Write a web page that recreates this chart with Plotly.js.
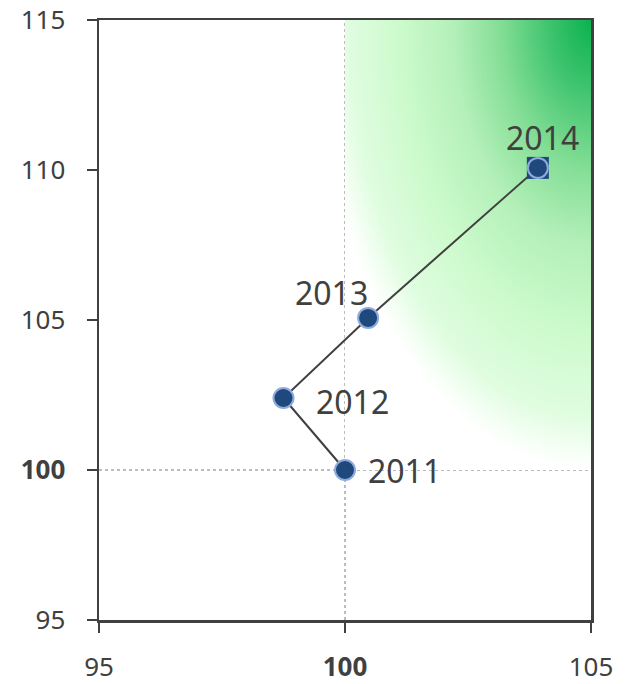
<!DOCTYPE html>
<html>
<head>
<meta charset="utf-8">
<script src="https://cdn.plot.ly/plotly-3.0.1.min.js"></script>
<style>
  html, body { margin: 0; padding: 0; background: #fff; }
  #chart { width: 633px; height: 684px; }
</style>
</head>
<body>
<div id="chart"></div>
<script>
// Index values by year (base year 2011 = 100)
const years = ['2011', '2012', '2013', '2014'];
const xValues = [100.0, 98.75, 100.47, 103.92];
const yValues = [100.0, 102.4, 105.07, 110.07];

// Axis ticks
const xTickVals = [95, 100, 105];
const xTickText = ['95', '<b>100</b>', '105'];
const yTickVals = [95, 100, 105, 110, 115];
const yTickText = ['95', '<b>100</b>', '105', '110', '115'];

// Reference level for the highlighted quadrant
const refX = 100;
const refY = 100;
const xRange = [95, 105];
const yRange = [95, 115];

// Label placement per year (pixel shifts from the point)
const labelShiftX = [59, 69, -37, 5];
const labelShiftY = [0, -3, 25, 30];

const ink = '#404040';
const fontFamily = '"Noto Sans", "Open Sans", sans-serif';

// Soft green glow radiating from the upper-right corner (elliptical falloff)
function glowImage() {
  const c = document.createElement('canvas');
  c.width = 300; c.height = 300;
  const ctx = c.getContext('2d');
  ctx.fillStyle = '#ffffff';
  ctx.fillRect(0, 0, 300, 300);
  ctx.setTransform(1.12, 0, 0, 1.0, 300, 0);
  const g = ctx.createRadialGradient(0, 0, 0, 0, 0, 300);
  g.addColorStop(0.00, 'rgb(12,178,80)');
  g.addColorStop(0.15, 'rgb(62,196,110)');
  g.addColorStop(0.33, 'rgb(132,222,150)');
  g.addColorStop(0.50, 'rgb(180,240,185)');
  g.addColorStop(0.70, 'rgb(205,251,205)');
  g.addColorStop(0.88, 'rgb(224,253,224)');
  g.addColorStop(0.96, 'rgb(246,255,246)');
  g.addColorStop(1.00, 'rgb(255,255,255)');
  ctx.fillStyle = g;
  ctx.fillRect(-300, 0, 300, 300);
  return c.toDataURL('image/png');
}

const last = years.length - 1;

const traces = [
  {
    x: xValues, y: yValues, type: 'scatter', mode: 'lines',
    line: { color: ink, width: 2 }, hoverinfo: 'skip', showlegend: false
  },
  {
    x: [xValues[last]], y: [yValues[last]], type: 'scatter', mode: 'markers',
    marker: { symbol: 'square', size: 22, color: '#1f497d', line: { width: 0 } },
    hoverinfo: 'skip', showlegend: false
  },
  {
    x: xValues, y: yValues, type: 'scatter', mode: 'markers', text: years,
    marker: { symbol: 'circle', size: 20, color: '#1f497d',
              line: { color: '#8faadc', width: 2 } },
    showlegend: false
  }
];

const annotations = years.map((yr, i) => ({
  x: xValues[i], y: yValues[i], xref: 'x', yref: 'y',
  text: yr, showarrow: false,
  xanchor: 'center', yanchor: 'middle',
  xshift: labelShiftX[i], yshift: labelShiftY[i],
  font: { family: fontFamily, size: 32, color: ink }
}));

const axisCommon = {
  showline: true, linecolor: ink, linewidth: 2.5, mirror: true,
  ticks: 'outside', ticklen: 10, tickwidth: 2.5, tickcolor: ink,
  showgrid: false, zeroline: false, tickmode: 'array',
  tickfont: { family: fontFamily, size: 26, color: ink }
};

const layout = {
  width: 633, height: 684,
  margin: { l: 99, r: 42, t: 20, b: 64, pad: 0 },
  paper_bgcolor: '#ffffff', plot_bgcolor: '#ffffff',
  xaxis: Object.assign({}, axisCommon, {
    range: xRange, tickvals: xTickVals, ticktext: xTickText,
    ticklabelstandoff: 12
  }),
  yaxis: Object.assign({}, axisCommon, {
    range: yRange, tickvals: yTickVals, ticktext: yTickText,
    ticklabelstandoff: 16
  }),
  images: [{
    source: glowImage(), xref: 'x', yref: 'y',
    x: refX, y: yRange[1], sizex: xRange[1] - refX, sizey: yRange[1] - refY,
    sizing: 'stretch', xanchor: 'left', yanchor: 'top', layer: 'below'
  }],
  shapes: [
    { type: 'line', xref: 'x', yref: 'y', x0: refX, x1: refX, y0: yRange[0], y1: yRange[1],
      line: { color: '#a6a6a6', width: 1.5, dash: 'dot' }, layer: 'below' },
    { type: 'line', xref: 'x', yref: 'y', x0: xRange[0], x1: xRange[1], y0: refY, y1: refY,
      line: { color: '#a6a6a6', width: 1.5, dash: 'dot' }, layer: 'below' }
  ],
  annotations: annotations,
  showlegend: false
};

Plotly.newPlot('chart', traces, layout, { displayModeBar: false, staticPlot: true });
</script>
</body>
</html>
